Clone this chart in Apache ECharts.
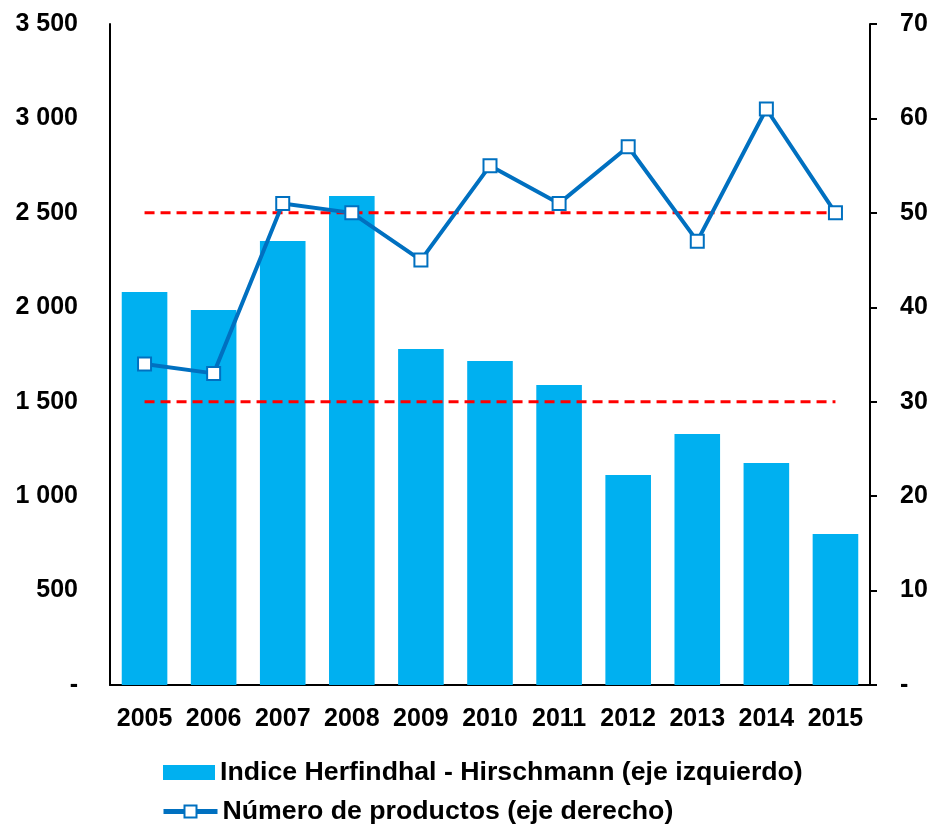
<!DOCTYPE html>
<html><head><meta charset="utf-8">
<script src="https://cdn.jsdelivr.net/npm/echarts@6/dist/echarts.min.js"></script>
<style>html,body{margin:0;padding:0;background:#fff}#c{width:935px;height:829px}</style>
</head><body><div id="c"></div>
<script>
const years = ['2005','2006','2007','2008','2009','2010','2011','2012','2013','2014','2015'];
const hhi = [2081,1986,2351,2589,1779,1716,1589,1112,1329,1175,800];
const products = [34,33,51,50,45,55,51,57,47,61,50];
const upperRef = [50,50,50,50,50,50,50,50,50,50,50];
const lowerRef = [30,30,30,30,30,30,30,30,30,30,30];
const barName = 'Indice Herfindhal - Hirschmann (eje izquierdo)';
const lineName = 'Número de productos (eje derecho)';
const font = 'Liberation Sans, Arial, sans-serif';
const fmtL = v => v === 0 ? '-' : String(v).replace(/\B(?=(\d{3})+(?!\d))/g, ' ');
const legendText = {fontFamily: font, fontWeight: 'bold', fontSize: 26.7, color: '#000'};
const chart = echarts.init(document.getElementById('c'));
chart.setOption({
  animation: false,
  textStyle: {fontFamily: font},
  grid: {left: 110, right: 65, top: 24, bottom: 144},
  legend: [
    {data: [{name: barName, icon: 'rect'}], left: 163, top: 759, padding: 0,
     itemWidth: 52, itemHeight: 15, textStyle: legendText},
    {data: [{name: lineName, lineStyle: {width: 5}}], left: 161, top: 798, padding: 0,
     itemWidth: 54, itemHeight: 15, itemGap: 3, textStyle: legendText}
  ],
  xAxis: {
    type: 'category', data: years,
    axisLine: {lineStyle: {color: '#000', width: 2}},
    axisTick: {show: false},
    axisLabel: {interval: 0, fontFamily: font, fontWeight: 'bold', fontSize: 25, color: '#000', margin: 22}
  },
  yAxis: [
    {type: 'value', min: 0, max: 3500, interval: 500,
     axisLine: {show: true, lineStyle: {color: '#000', width: 2}},
     axisTick: {show: false}, splitLine: {show: false},
     axisLabel: {formatter: fmtL, fontFamily: font, fontWeight: 'bold', fontSize: 25, color: '#000', margin: 32}},
    {type: 'value', min: 0, max: 70, interval: 10, position: 'right',
     axisLine: {show: true, lineStyle: {color: '#000', width: 2}},
     axisTick: {show: true, inside: false, length: 7, lineStyle: {color: '#000', width: 2}}, splitLine: {show: false},
     axisLabel: {formatter: v => v === 0 ? '-' : String(v), fontFamily: font, fontWeight: 'bold', fontSize: 25, color: '#000', margin: 30}}
  ],
  series: [
    {name: barName, type: 'bar', data: hhi, barWidth: '66%', itemStyle: {color: '#00B0F0'}},
    {name: 'ref50', type: 'line', yAxisIndex: 1, data: upperRef, symbol: 'none', silent: true,
     lineStyle: {color: '#FF0000', width: 3, type: [10, 6]}, z: 3},
    {name: 'ref30', type: 'line', yAxisIndex: 1, data: lowerRef, symbol: 'none', silent: true,
     lineStyle: {color: '#FF0000', width: 3, type: [10, 6]}, z: 3},
    {name: lineName, type: 'line', yAxisIndex: 1, data: products, symbol: 'rect', symbolSize: 13,
     itemStyle: {color: '#fff', borderColor: '#0070C0', borderWidth: 2},
     lineStyle: {color: '#0070C0', width: 4}, z: 5}
  ]
});
</script></body></html>
